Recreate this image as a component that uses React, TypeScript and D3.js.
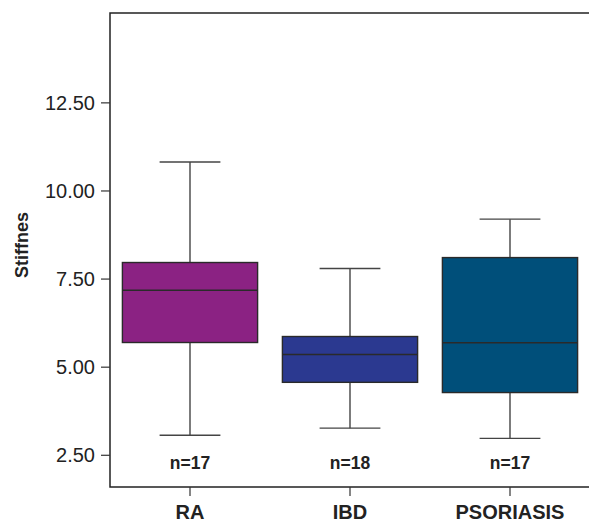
import React from "react";
import * as d3 from "d3";

const categories = ["RA", "IBD", "PSORIASIS"];
const whiskerLow = [3.07, 3.27, 2.98];
const q1 = [5.7, 4.57, 4.28];
const median = [7.18, 5.36, 5.69];
const q3 = [7.97, 5.87, 8.11];
const whiskerHigh = [10.82, 7.8, 9.2];
const counts = ["n=17", "n=18", "n=17"];
const colors = ["#8B2283", "#2B3990", "#004F7A"];
const yTicks = [2.5, 5.0, 7.5, 10.0, 12.5];

const W = 589;
const H = 523;
const left = 110;
const right = 590;
const top = 13;
const bottom = 487;

export default function App() {
  const y = d3.scaleLinear().domain([1.6, 15.05]).range([bottom, top]);
  const x = d3.scaleBand().domain(categories).range([left, right]);
  const bw = x.bandwidth();
  const boxW = bw * 0.845;
  const capW = bw * 0.38;
  const font = "Arial, 'Liberation Sans', Helvetica, sans-serif";

  return (
    <svg
      width={W}
      height={H}
      style={{ position: "absolute", left: 0, top: 0, background: "#fff" }}
      fontFamily={font}
    >
      <path
        d={`M${right},${top} H${left} V${bottom} H${right}`}
        fill="none"
        stroke="#222"
        strokeWidth={1.5}
      />
      {yTicks.map((t) => (
        <g key={t}>
          <line x1={left - 9} x2={left} y1={y(t)} y2={y(t)} stroke="#333" strokeWidth={1.2} />
          <text
            x={left - 15}
            y={y(t)}
            textAnchor="end"
            dominantBaseline="central"
            fontSize={20}
            fill="#222"
          >
            {t.toFixed(2)}
          </text>
        </g>
      ))}
      <text
        transform={`translate(28,245) rotate(-90)`}
        textAnchor="middle"
        fontSize={18}
        fontWeight="bold"
        fill="#222"
      >
        Stiffnes
      </text>
      {categories.map((c, i) => {
        const cx = (x(c) as number) + bw / 2;
        return (
          <g key={c}>
            <line x1={cx} x2={cx} y1={y(whiskerHigh[i])} y2={y(q3[i])} stroke="#444" strokeWidth={1.4} />
            <line x1={cx} x2={cx} y1={y(q1[i])} y2={y(whiskerLow[i])} stroke="#444" strokeWidth={1.4} />
            <line x1={cx - capW / 2} x2={cx + capW / 2} y1={y(whiskerHigh[i])} y2={y(whiskerHigh[i])} stroke="#444" strokeWidth={1.4} />
            <line x1={cx - capW / 2} x2={cx + capW / 2} y1={y(whiskerLow[i])} y2={y(whiskerLow[i])} stroke="#444" strokeWidth={1.4} />
            <rect
              x={cx - boxW / 2}
              y={y(q3[i])}
              width={boxW}
              height={y(q1[i]) - y(q3[i])}
              fill={colors[i]}
              stroke="#2a2a2a"
              strokeWidth={1.4}
            />
            <line x1={cx - boxW / 2} x2={cx + boxW / 2} y1={y(median[i])} y2={y(median[i])} stroke="#2a2a2a" strokeWidth={1.5} />
            <text x={cx} y={469} textAnchor="middle" fontSize={17.5} fontWeight="bold" fill="#222">
              {counts[i]}
            </text>
            <line x1={cx} x2={cx} y1={bottom} y2={bottom + 9} stroke="#333" strokeWidth={1.2} />
            <text x={cx} y={519} textAnchor="middle" fontSize={20} fontWeight="bold" fill="#222">
              {c}
            </text>
          </g>
        );
      })}
    </svg>
  );
}
